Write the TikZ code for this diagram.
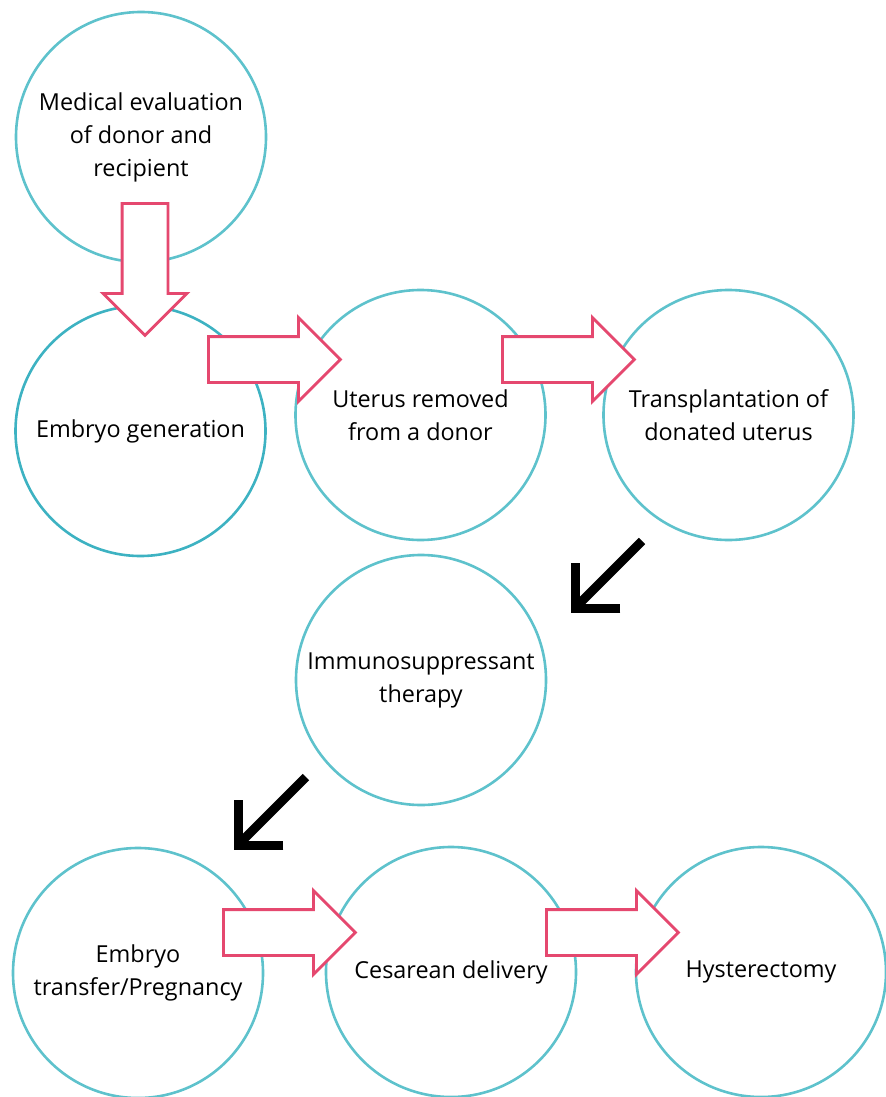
\documentclass[tikz,border=0pt]{standalone}
\usepackage{fontspec}
\setmainfont{Open Sans}
\usetikzlibrary{shapes.arrows,arrows.meta}

\definecolor{ringblue}{HTML}{5EC2CC}
\definecolor{ringdark}{HTML}{3DB2C2}
\definecolor{flowpink}{HTML}{E5486F}

\begin{document}
\begin{tikzpicture}[
            x=0.5pt, y=-0.5pt,
            stage/.style={
                circle,
                draw=ringblue,
                line width=1.3pt,
                minimum size=125pt,
                inner sep=0pt,
                align=center,
                font=\fontsize{11.7pt}{16.5pt}\selectfont
            },
            blockarrow/.style={
                single arrow,
                draw=flowpink,
                fill=white,
                line width=1.4pt,
                minimum height=66pt,
                minimum width=40.5pt,
                single arrow head extend=9.5pt,
                single arrow tip angle=90,
                inner sep=10.75pt,
                anchor=tail
            },
            turnarrow/.style={
                line width=4.5pt,
                -{Straight Barb[length=16pt, width=32pt, line cap=butt, line join=miter]}
            }
        ]
        \useasboundingbox (0,0) rectangle (885,1097);

        % Stages
        \node[stage] (s1) at (141,137) {Medical evaluation\\of donor and\\recipient};
        \node[stage, draw=ringdark] (s2) at (140.5,431) {Embryo generation};
        \node[stage] (s3) at (420.5,415) {Uterus removed\\from a donor};
        \node[stage] (s4) at (728.5,415) {Transplantation of\\donated uterus};
        \node[stage] (s5) at (421,680) {Immunosuppressant\\therapy};
        \node[stage] (s6) at (138,973) {Embryo\\transfer/Pregnancy};
        \node[stage] (s7) at (451,972) {Cesarean delivery};
        \node[stage] (s8) at (761,972) {Hysterectomy};

        % Pink block arrows (placed by their tails)
        \node[blockarrow, shape border rotate=270] (b12) at (145,202) {};
        \node[blockarrow] (b23) at (207,359.5) {};
        \node[blockarrow] (b34) at (501,359.5) {};
        \node[blockarrow] (b67) at (222,932.5) {};
        \node[blockarrow] (b78) at (545,932.5) {};

        % Black arrows
        \coordinate (c45s) at (642,541);
        \coordinate (c45e) at (570.5,612.5);
        \coordinate (c56s) at (306,777);
        \coordinate (c56e) at (233.5,849.5);
        \draw[turnarrow] (c45s) -- (c45e);
        \draw[turnarrow] (c56s) -- (c56e);

\end{tikzpicture}
\end{document}
